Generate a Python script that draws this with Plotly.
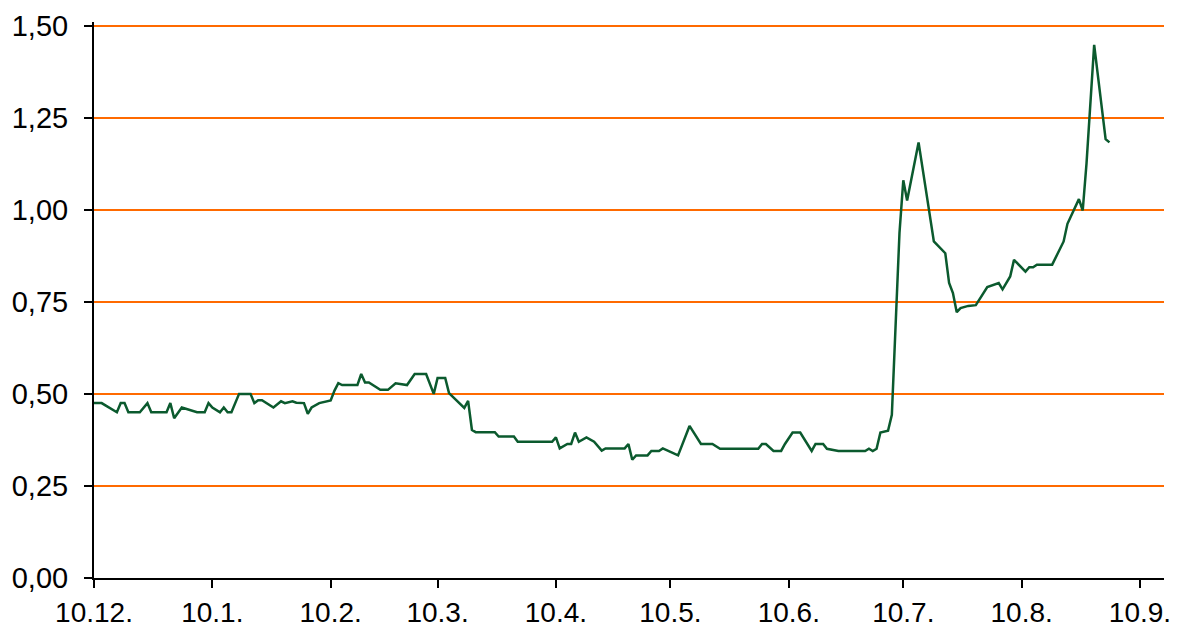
import plotly.graph_objects as go

dates = [
    "2010-12-10", "2010-12-12", "2010-12-16", "2010-12-17", "2010-12-18", "2010-12-19",
    "2010-12-22", "2010-12-24", "2010-12-25", "2010-12-29", "2010-12-30", "2010-12-31",
    "2011-01-02", "2011-01-06", "2011-01-08", "2011-01-09", "2011-01-10", "2011-01-12",
    "2011-01-13", "2011-01-14", "2011-01-15", "2011-01-17", "2011-01-20", "2011-01-21",
    "2011-01-22", "2011-01-23", "2011-01-26", "2011-01-28", "2011-01-29", "2011-01-31",
    "2011-02-01", "2011-02-03", "2011-02-04", "2011-02-05", "2011-02-07", "2011-02-10",
    "2011-02-11", "2011-02-12", "2011-02-13", "2011-02-17", "2011-02-18", "2011-02-19",
    "2011-02-20", "2011-02-23", "2011-02-25", "2011-02-27", "2011-03-02", "2011-03-04",
    "2011-03-07", "2011-03-09", "2011-03-10", "2011-03-12", "2011-03-13", "2011-03-17",
    "2011-03-18", "2011-03-19", "2011-03-20", "2011-03-25", "2011-03-26", "2011-03-30",
    "2011-03-31", "2011-04-09", "2011-04-10", "2011-04-11", "2011-04-13", "2011-04-14",
    "2011-04-15", "2011-04-16", "2011-04-18", "2011-04-20", "2011-04-22", "2011-04-23",
    "2011-04-28", "2011-04-29", "2011-04-30", "2011-05-01", "2011-05-04", "2011-05-05",
    "2011-05-07", "2011-05-08", "2011-05-12", "2011-05-13", "2011-05-15", "2011-05-18",
    "2011-05-21", "2011-05-23", "2011-06-02", "2011-06-03", "2011-06-04", "2011-06-06",
    "2011-06-08", "2011-06-09", "2011-06-11", "2011-06-13", "2011-06-16", "2011-06-17",
    "2011-06-19", "2011-06-20", "2011-06-23", "2011-06-30", "2011-07-01", "2011-07-02",
    "2011-07-03", "2011-07-04", "2011-07-06", "2011-07-07", "2011-07-09", "2011-07-10",
    "2011-07-11", "2011-07-14", "2011-07-16", "2011-07-18", "2011-07-21", "2011-07-22",
    "2011-07-23", "2011-07-24", "2011-07-25", "2011-07-27", "2011-07-29", "2011-08-01",
    "2011-08-04", "2011-08-05", "2011-08-07", "2011-08-08", "2011-08-11", "2011-08-12",
    "2011-08-13", "2011-08-14", "2011-08-18", "2011-08-20", "2011-08-21", "2011-08-22",
    "2011-08-25", "2011-08-26", "2011-08-27", "2011-08-29", "2011-08-31", "2011-09-01",
    "2011-09-02",
]

values = [
    0.475, 0.475, 0.450, 0.475, 0.475, 0.450,
    0.450, 0.475, 0.450, 0.450, 0.475, 0.434,
    0.463, 0.450, 0.450, 0.475, 0.463, 0.450,
    0.463, 0.450, 0.450, 0.500, 0.500, 0.475,
    0.483, 0.483, 0.463, 0.480, 0.475, 0.480,
    0.476, 0.475, 0.446, 0.463, 0.475, 0.482,
    0.509, 0.529, 0.524, 0.524, 0.554, 0.531,
    0.531, 0.511, 0.511, 0.529, 0.524, 0.554,
    0.554, 0.500, 0.543, 0.543, 0.502, 0.462,
    0.481, 0.402, 0.396, 0.396, 0.384, 0.384,
    0.370, 0.370, 0.382, 0.352, 0.364, 0.364,
    0.395, 0.370, 0.382, 0.370, 0.346, 0.352,
    0.352, 0.364, 0.321, 0.333, 0.333, 0.345,
    0.345, 0.352, 0.333, 0.361, 0.413, 0.364,
    0.364, 0.351, 0.351, 0.364, 0.364, 0.345,
    0.345, 0.364, 0.395, 0.395, 0.345, 0.364,
    0.364, 0.351, 0.345, 0.345, 0.351, 0.345,
    0.351, 0.395, 0.400, 0.443, 0.937, 1.080,
    1.025, 1.183, 1.050, 0.914, 0.882, 0.801,
    0.774, 0.722, 0.733, 0.739, 0.741, 0.790,
    0.801, 0.784, 0.819, 0.864, 0.832, 0.844,
    0.844, 0.851, 0.851, 0.893, 0.914, 0.962,
    1.029, 0.998, 1.127, 1.448, 1.281, 1.192,
    1.183,
]

tick_dates = ["2010-12-10", "2011-01-10", "2011-02-10", "2011-03-10", "2011-04-10",
              "2011-05-10", "2011-06-10", "2011-07-10", "2011-08-10", "2011-09-10"]
tick_labels = ["10.12.", "10.1.", "10.2.", "10.3.", "10.4.",
               "10.5.", "10.6.", "10.7.", "10.8.", "10.9."]

y_ticks = [0, 0.25, 0.5, 0.75, 1.0, 1.25, 1.5]
y_labels = ["0,00", "0,25", "0,50", "0,75", "1,00", "1,25", "1,50"]

FONT = "Liberation Sans, Arial, sans-serif"

fig = go.Figure()
fig.add_trace(go.Scatter(
    x=dates, y=values, mode="lines",
    line=dict(color="#0B5A2E", width=2.5),
    showlegend=False, hoverinfo="x+y",
))

# page body has an 8px margin, so the figure is sized/offset to fit the window
fig.update_layout(
    width=1172, height=623,
    margin=dict(l=86, r=16, t=14, b=53),
    paper_bgcolor="white", plot_bgcolor="white",
    font=dict(family=FONT, size=29, color="black"),
    xaxis=dict(
        type="date",
        range=["2010-12-10", "2011-09-16 07:00"],
        tickmode="array", tickvals=tick_dates, ticktext=tick_labels,
        showgrid=False, zeroline=False, automargin=False,
        ticklabeloverflow="allow",
        showline=True, linecolor="black", linewidth=2,
        ticks="outside", ticklen=8, tickwidth=2, tickcolor="black",
        tickfont=dict(family=FONT, size=28),
    ),
    yaxis=dict(
        range=[0, 1.51],
        tickmode="array", tickvals=y_ticks, ticktext=y_labels,
        showgrid=True, gridcolor="#FF6A00", gridwidth=2,
        zeroline=False, automargin=False,
        ticklabeloverflow="allow",
        showline=True, linecolor="black", linewidth=2,
        ticks="outside", ticklen=8, tickwidth=2, tickcolor="black",
        ticklabelstandoff=10,
        tickfont=dict(family=FONT, size=29),
    ),
)

fig.write_html("out.html")
